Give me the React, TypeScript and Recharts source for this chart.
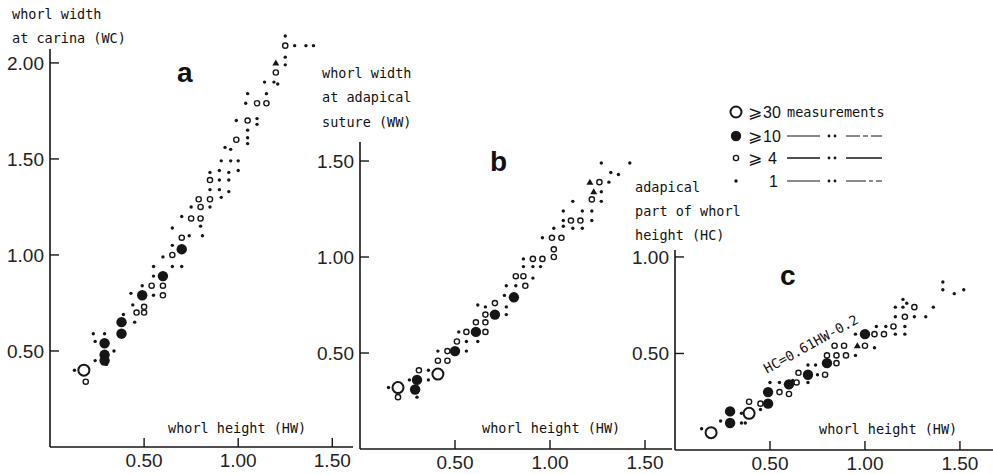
import { ScatterChart, Scatter, XAxis, YAxis, ReferenceLine } from "recharts";

type P = [number, number];

// panel a: whorl height (HW) vs whorl width at carina (WC)
const aBig: P[] = [[0.18, 0.4]];
const aFilled: P[] = [
  [0.29, 0.54], [0.29, 0.48], [0.29, 0.45], [0.38, 0.65], [0.38, 0.59],
  [0.49, 0.79], [0.6, 0.89], [0.7, 1.03],
];
const aSmall: P[] = [
  [0.19, 0.34], [0.5, 0.73], [0.46, 0.7], [0.5, 0.7], [0.6, 0.79], [0.6, 0.84],
  [0.54, 0.84], [0.65, 1.0], [0.7, 1.09], [0.75, 1.19], [0.8, 1.19], [0.8, 1.25],
  [0.79, 1.29], [0.85, 1.29], [0.85, 1.39], [0.99, 1.6], [1.05, 1.7], [1.1, 1.79],
  [1.15, 1.79], [1.2, 1.95], [1.25, 2.09],
];
const aDots: P[] = [
  [0.13, 0.4], [0.23, 0.59], [0.29, 0.59], [0.24, 0.55], [0.34, 0.5], [0.24, 0.45],
  [0.3, 0.43], [0.39, 0.69], [0.45, 0.65], [0.44, 0.74], [0.43, 0.8], [0.55, 0.79],
  [0.49, 0.84], [0.55, 0.94], [0.55, 0.89], [0.6, 0.99], [0.65, 0.94], [0.7, 0.94],
  [0.65, 1.05], [0.65, 1.14], [0.74, 1.1], [0.81, 1.1], [0.8, 1.15], [0.7, 1.2],
  [0.75, 1.25], [0.85, 1.25], [0.91, 1.3], [0.9, 1.39], [0.95, 1.39], [0.85, 1.34],
  [0.9, 1.34], [0.95, 1.33], [0.85, 1.43], [0.9, 1.44], [0.95, 1.43], [1.0, 1.44],
  [0.91, 1.49], [0.96, 1.49], [1.0, 1.49], [0.96, 1.55], [0.93, 1.56], [1.05, 1.58],
  [1.05, 1.61], [1.05, 1.65], [0.99, 1.7], [1.1, 1.71], [1.1, 1.68], [1.04, 1.79],
  [1.05, 1.84], [1.15, 1.84], [1.14, 1.9], [1.19, 1.9], [1.21, 1.89], [1.25, 1.99],
  [1.25, 2.03], [1.25, 2.14], [1.3, 2.09], [1.36, 2.09], [1.4, 2.09],
];
const aTris: P[] = [[1.2, 2.0]];

// panel b: HW vs whorl width at adapical suture (WW)
const bBig: P[] = [[0.2, 0.32], [0.41, 0.39]];
const bFilled: P[] = [
  [0.29, 0.31], [0.3, 0.36], [0.5, 0.51], [0.61, 0.61], [0.71, 0.7], [0.81, 0.79],
];
const bSmall: P[] = [
  [0.2, 0.27], [0.31, 0.41], [0.41, 0.46], [0.46, 0.46], [0.46, 0.51], [0.51, 0.56],
  [0.56, 0.61], [0.61, 0.66], [0.66, 0.66], [0.66, 0.61], [0.66, 0.7], [0.71, 0.76],
  [0.87, 0.85], [0.82, 0.9], [0.86, 0.9], [0.91, 0.99], [0.96, 0.99], [1.02, 1.0],
  [1.02, 1.04], [1.01, 1.1], [1.06, 1.1], [1.11, 1.19], [1.16, 1.19], [1.22, 1.3],
  [1.26, 1.39],
];
const bDots: P[] = [
  [0.15, 0.32], [0.3, 0.27], [0.26, 0.36], [0.36, 0.41], [0.36, 0.36], [0.41, 0.51],
  [0.56, 0.56], [0.56, 0.51], [0.52, 0.61], [0.62, 0.56], [0.62, 0.75], [0.66, 0.74],
  [0.77, 0.7], [0.77, 0.74], [0.76, 0.8], [0.77, 0.85], [0.82, 0.85], [0.91, 0.89],
  [0.86, 0.95], [0.91, 0.95], [0.95, 0.95], [0.86, 0.99], [0.96, 1.1], [1.02, 1.15],
  [1.07, 1.16], [1.12, 1.15], [1.17, 1.15], [1.07, 1.19], [1.22, 1.19], [1.07, 1.24],
  [1.17, 1.24], [1.22, 1.24], [1.12, 1.29], [1.27, 1.29], [1.27, 1.34], [1.31, 1.39],
  [1.32, 1.44], [1.36, 1.43], [1.27, 1.49], [1.42, 1.49],
];
const bTris: P[] = [[1.23, 1.34], [1.21, 1.39]];

// panel c: HW vs adapical part of whorl height (HC)
const cBig: P[] = [[0.19, 0.09], [0.39, 0.19]];
const cFilled: P[] = [
  [0.29, 0.14], [0.29, 0.2], [0.49, 0.24], [0.49, 0.3], [0.6, 0.34], [0.7, 0.39],
  [0.8, 0.45], [1.0, 0.6],
];
const cSmall: P[] = [
  [0.39, 0.25], [0.45, 0.24], [0.55, 0.3], [0.6, 0.29], [0.64, 0.35], [0.65, 0.4],
  [0.79, 0.39], [0.85, 0.45], [0.8, 0.49], [0.85, 0.49], [0.9, 0.49], [0.84, 0.54],
  [0.89, 0.54], [1.0, 0.54], [1.05, 0.6], [1.1, 0.6], [1.15, 0.64], [1.21, 0.69],
  [1.26, 0.74],
];
const cDots: P[] = [
  [0.14, 0.11], [0.24, 0.15], [0.35, 0.14], [0.37, 0.14], [0.35, 0.19], [0.45, 0.21],
  [0.5, 0.35], [0.55, 0.35], [0.62, 0.36], [0.7, 0.35], [0.7, 0.44], [0.74, 0.44],
  [0.75, 0.39], [0.95, 0.49], [1.05, 0.53], [0.95, 0.6], [1.06, 0.64], [1.11, 0.64],
  [1.16, 0.6], [1.21, 0.6], [1.21, 0.64], [1.16, 0.69], [1.26, 0.69], [1.32, 0.69],
  [1.16, 0.74], [1.2, 0.74], [1.22, 0.76], [1.2, 0.78], [1.36, 0.74], [1.41, 0.87],
  [1.41, 0.83], [1.47, 0.81], [1.52, 0.83],
];
const cTris: P[] = [[0.96, 0.54]];

const xTicks = [0.5, 1.0, 1.5];
const aYTicks = [0.5, 1.0, 1.5, 2.0];
const bYTicks = [0.5, 1.0, 1.5];
const cYTicks = [0.5, 1.0];

const ink = "#161616";
const mono = "'DejaVu Sans Mono', monospace";
const sans = "'Liberation Sans', Arial, sans-serif";

const rows = (pts: P[]) => pts.map(([hw, v]) => ({ hw, v }));

const bigRing = (p: any) => (
  <circle cx={p.cx} cy={p.cy} r={5.5} fill="#fff" stroke={ink} strokeWidth={2} />
);
const blob = (p: any) => <circle cx={p.cx} cy={p.cy} r={5.2} fill={ink} />;
const ring = (p: any) => (
  <circle cx={p.cx} cy={p.cy} r={2.6} fill="#fff" stroke={ink} strokeWidth={1.4} />
);
const dot = (p: any) => <circle cx={p.cx} cy={p.cy} r={1.7} fill={ink} />;
const tri = (p: any) => (
  <path
    d={`M${p.cx},${p.cy - 3.5} L${p.cx + 3.5},${p.cy + 2.5} L${p.cx - 3.5},${p.cy + 2.5} Z`}
    fill={ink}
  />
);

const YTick = (p: any) => (
  <g>
    <line x1={p.x} y1={p.y} x2={p.x + 9} y2={p.y} stroke={ink} strokeWidth={1.4} />
    <text x={p.x - 6} y={p.y} dy="0.36em" textAnchor="end" fontSize={19} fontFamily={sans} fill="#222">
      {Number(p.payload.value).toFixed(2)}
    </text>
  </g>
);

const XTick = (p: any) => (
  <g>
    <line x1={p.x} y1={p.y} x2={p.x} y2={p.y - 9} stroke={ink} strokeWidth={1.4} />
    <text x={p.x} y={p.y + 20} textAnchor="middle" fontSize={19} fontFamily={sans} fill="#222">
      {Number(p.payload.value).toFixed(2)}
    </text>
  </g>
);

type PanelProps = {
  margin: { top: number; left: number; right: number; bottom: number };
  xMax: number;
  yMax: number;
  axisTop: number; // where the drawn y axis stops (points may sit above it)
  yTicks: number[];
  big: P[];
  filled: P[];
  small: P[];
  dots: P[];
  tris: P[];
};

// every panel covers the whole picture; its margins place the plot box
function Panel({ margin, xMax, yMax, axisTop, yTicks, big, filled, small, dots, tris }: PanelProps) {
  const axis = { stroke: ink, strokeWidth: 1.6 };
  return (
    <div style={{ position: "absolute", left: 0, top: 0 }}>
      <ScatterChart width={993} height={474} margin={margin}>
        <XAxis
          type="number"
          dataKey="hw"
          domain={[0, xMax]}
          ticks={xTicks}
          interval={0}
          height={1}
          tickSize={0}
          tickMargin={0}
          tickLine={false}
          axisLine={axis}
          tick={XTick}
        />
        <YAxis
          type="number"
          dataKey="v"
          domain={[0, yMax]}
          ticks={yTicks}
          interval={0}
          width={1}
          tickSize={0}
          tickMargin={0}
          tickLine={false}
          axisLine={false}
          tick={YTick}
        />
        <ReferenceLine
          segment={[{ x: 0, y: 0 }, { x: 0, y: axisTop }]}
          stroke={ink}
          strokeWidth={1.6}
        />
        <Scatter data={rows(dots)} shape={dot} isAnimationActive={false} />
        <Scatter data={rows(tris)} shape={tri} isAnimationActive={false} />
        <Scatter data={rows(small)} shape={ring} isAnimationActive={false} />
        <Scatter data={rows(big)} shape={bigRing} isAnimationActive={false} />
        <Scatter data={rows(filled)} shape={blob} isAnimationActive={false} />
      </ScatterChart>
    </div>
  );
}

function Labels() {
  const t = { fontFamily: mono, fontSize: 13.5, fill: "#111" };
  const big = { fontFamily: sans, fontSize: 28, fontWeight: 900, fill: "#111" };
  const geq = { fontFamily: "'DejaVu Sans', sans-serif", fontSize: 17, fill: "#111" };
  const num = { fontFamily: sans, fontSize: 16, fill: "#111" };
  return (
    <svg
      width={993}
      height={474}
      style={{ position: "absolute", left: 0, top: 0, pointerEvents: "none" }}
    >
      <text x={12} y={19} {...t}>whorl width</text>
      <text x={12} y={43} {...t}>at carina (WC)</text>
      <text x={177} y={82} {...big}>a</text>
      <text x={168} y={433} {...t}>whorl height (HW)</text>

      <text x={322} y={78} {...t}>whorl width</text>
      <text x={322} y={102} {...t}>at adapical</text>
      <text x={322} y={127} {...t}>suture (WW)</text>
      <text x={490} y={171} {...big}>b</text>
      <text x={482} y={433} {...t}>whorl height (HW)</text>

      <text x={635} y={192} {...t}>adapical</text>
      <text x={635} y={216} {...t}>part of whorl</text>
      <text x={635} y={240} {...t}>height (HC)</text>
      <text x={780} y={285} {...big}>c</text>
      <text x={819} y={434} {...t}>whorl height (HW)</text>
      <text x={811} y={344} textAnchor="middle" dy="0.35em" transform="rotate(-29 811 344)" {...t}>
        HC=0.61HW-0.2
      </text>

      {/* legend */}
      <circle cx={736} cy={112} r={5.5} fill="#fff" stroke={ink} strokeWidth={2} />
      <text x={748} y={118} {...geq}>⩾</text>
      <text x={763} y={118} {...num}>30</text>
      <text x={787} y={117} {...t}>measurements</text>

      <circle cx={736} cy={136} r={5.2} fill={ink} />
      <text x={748} y={142} {...geq}>⩾</text>
      <text x={763} y={142} {...num}>10</text>

      <circle cx={736} cy={158} r={2.6} fill="#fff" stroke={ink} strokeWidth={1.4} />
      <text x={748} y={164} {...geq}>⩾</text>
      <text x={768} y={164} {...num}>4</text>

      <circle cx={736} cy={181} r={1.7} fill={ink} />
      <text x={769} y={187} {...num}>1</text>

      {[136, 158, 181].map((y, i) => (
        <g key={y} stroke={ink}>
          <line x1={787} x2={820} y1={y} y2={y} strokeWidth={i === 1 ? 1.5 : 1.1} />
          <circle cx={829} cy={y} r={1.4} fill={ink} stroke="none" />
          <circle cx={835} cy={y} r={1.4} fill={ink} stroke="none" />
          <line
            x1={846}
            x2={882}
            y1={y}
            y2={y}
            strokeWidth={i === 1 ? 1.5 : 1}
            strokeDasharray={i === 0 ? "14 3 5 3 14" : i === 2 ? "20 3 4 3 9" : undefined}
          />
        </g>
      ))}
    </svg>
  );
}

export default function App() {
  return (
    <div style={{ position: "absolute", left: 0, top: 0, width: 993, height: 474, background: "#fff" }}>
      <Panel
        margin={{ top: 32, left: 49, right: 640, bottom: 26 }}
        xMax={1.61}
        yMax={2.161}
        axisTop={2.073}
        yTicks={aYTicks}
        big={aBig}
        filled={aFilled}
        small={aSmall}
        dots={aDots}
        tris={aTris}
      />
      <Panel
        margin={{ top: 142, left: 359, right: 321, bottom: 24 }}
        xMax={1.642}
        yMax={1.599}
        axisTop={1.599}
        yTicks={bYTicks}
        big={bBig}
        filled={bFilled}
        small={bSmall}
        dots={bDots}
        tris={bTris}
      />
      <Panel
        margin={{ top: 250, left: 674, right: 0, bottom: 23 }}
        xMax={1.674}
        yMax={1.036}
        axisTop={1.036}
        yTicks={cYTicks}
        big={cBig}
        filled={cFilled}
        small={cSmall}
        dots={cDots}
        tris={cTris}
      />
      <Labels />
    </div>
  );
}
